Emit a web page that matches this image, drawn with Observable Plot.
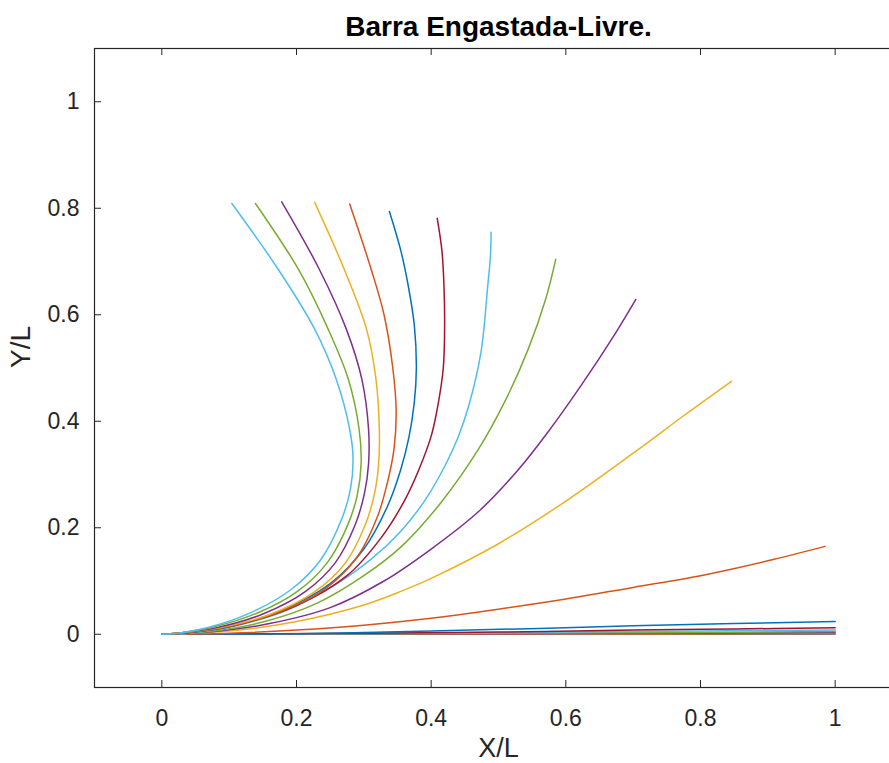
<!DOCTYPE html>
<html><head><meta charset="utf-8">
<script src="https://cdn.jsdelivr.net/npm/d3@7"></script>
<script src="https://cdn.jsdelivr.net/npm/@observablehq/plot@0.6"></script>
<style>
html,body{margin:0;padding:0;overflow:hidden;background:#fff;width:889px;height:763px}
#chart{width:889px;height:763px;overflow:hidden}
</style></head><body><div id="chart"></div>
<script>
const title = "Barra Engastada-Livre.";
const xLabel = "X/L";
const yLabel = "Y/L";
const xTicks = [0, 0.2, 0.4, 0.6, 0.8, 1];
const yTicks = [0, 0.2, 0.4, 0.6, 0.8, 1];
const palette = ["#0072BD", "#D95319", "#EDB120", "#7E2F8E", "#77AC30", "#4DBEEE", "#A2142F"];

// curves, root (0,0) to free tip, in drawing order
const c01 = [[0,0],[0.5,0],[1,0.0005]];
const c02 = [[0,0],[0.5,0.0004],[1,0.001]];
const c03 = [[0,0],[0.6,0.001],[1,0.002]];
const c04 = [[0,0],[0.5,0.001],[0.8,0.002],[1,0.003]];
const c05 = [[0,0],[0.5,0.002],[0.75,0.003],[1,0.005]];
const c06 = [[0,0],[0.4,0.002],[0.6,0.004],[0.8,0.006],[1,0.008]];
const c07 = [[0,0],[0.3,0.002],[0.5,0.004],[0.7,0.008],[0.85,0.010],[1,0.012]];
const c08 = [[0,0],[0.2,0.001],[0.4,0.006],[0.56,0.011],[0.7,0.016],[0.85,0.02],[1,0.024]];
const c09 = [[0,0],[0.1,0.002],[0.2,0.008],[0.3,0.017],[0.4,0.03],[0.5,0.047],[0.6,0.066],[0.7,0.088],[0.8,0.11],[0.9,0.138],[0.985,0.165]];
const c10 = [[0,0],[0.1,0.006],[0.2,0.024],[0.3,0.055],[0.356,0.081],[0.4,0.105],[0.5,0.17],[0.6,0.25],[0.7,0.34],[0.78,0.415],[0.846,0.475]];
const c11 = [[0,0],[0.07,0.004],[0.16,0.02],[0.25,0.05],[0.33,0.1],[0.4,0.16],[0.47,0.23],[0.53,0.31],[0.573,0.379],[0.622,0.466],[0.671,0.56],[0.704,0.629]];
const c12 = [[0,0],[0.07,0.005],[0.15,0.023],[0.23,0.058],[0.30,0.11],[0.356,0.165],[0.415,0.248],[0.47,0.347],[0.511,0.441],[0.544,0.535],[0.570,0.629],[0.585,0.704]];
const c13 = [[0,0],[0.04,0.002],[0.10,0.013],[0.18,0.042],[0.25,0.087],[0.31,0.14],[0.356,0.195],[0.39,0.25],[0.42,0.315],[0.44,0.37],[0.456,0.43],[0.474,0.53],[0.484,0.654],[0.488,0.71],[0.489,0.755]];
const c14 = [[0,0],[0.04,0.003],[0.11,0.017],[0.2,0.054],[0.275,0.11],[0.325,0.18],[0.36,0.25],[0.382,0.31],[0.40,0.372],[0.41,0.43],[0.418,0.5],[0.42,0.58],[0.419,0.654],[0.416,0.72],[0.409,0.781]];
const c15 = [[0,0],[0.035,0.003],[0.10,0.014],[0.18,0.046],[0.25,0.095],[0.30,0.16],[0.335,0.24],[0.355,0.31],[0.367,0.37],[0.375,0.436],[0.378,0.5],[0.375,0.58],[0.366,0.654],[0.355,0.72],[0.338,0.794]];
const c16 = [[0,0],[0.03,0.003],[0.09,0.012],[0.17,0.04],[0.24,0.083],[0.29,0.145],[0.32,0.22],[0.336,0.29],[0.345,0.35],[0.348,0.42],[0.343,0.5],[0.33,0.6],[0.311,0.685],[0.279,0.808]];
const c17 = [[0,0],[0.03,0.003],[0.085,0.012],[0.16,0.037],[0.225,0.078],[0.272,0.133],[0.302,0.205],[0.316,0.265],[0.322,0.32],[0.323,0.385],[0.318,0.479],[0.304,0.573],[0.271,0.685],[0.227,0.811]];
const c18 = [[0,0],[0.03,0.003],[0.08,0.012],[0.15,0.038],[0.213,0.08],[0.258,0.135],[0.287,0.205],[0.301,0.265],[0.307,0.32],[0.307,0.385],[0.297,0.479],[0.274,0.573],[0.234,0.685],[0.178,0.812]];
const c19 = [[0,0],[0.03,0.003],[0.075,0.013],[0.142,0.04],[0.203,0.082],[0.246,0.135],[0.276,0.205],[0.29,0.26],[0.296,0.32],[0.293,0.385],[0.277,0.479],[0.247,0.573],[0.203,0.685],[0.139,0.809]];
const c20 = [[0,0],[0.03,0.003],[0.07,0.013],[0.133,0.041],[0.193,0.085],[0.236,0.14],[0.267,0.216],[0.28,0.272],[0.284,0.33],[0.279,0.385],[0.259,0.479],[0.227,0.573],[0.173,0.685],[0.104,0.809]];

const curves = [c01,c02,c03,c04,c05,c06,c07,c08,c09,c10,c11,c12,c13,c14,c15,c16,c17,c18,c19,c20];
const rows = curves.flatMap((pts, i) => pts.map(([x, y]) => ({x, y, id: i, color: palette[i % palette.length]})));

const W = 905, H = 763, mL = 94, mR = 3, mT = 48, mB = 76;
const innerH = H - mT - mB, innerW = W - mL - mR;
const ink = "#262626";
const fmt = d => String(d);

const plot = Plot.plot({
  width: W, height: H,
  marginLeft: mL, marginRight: mR, marginTop: mT, marginBottom: mB,
  style: {fontFamily: "'Liberation Sans', Arial, Helvetica, sans-serif", fontSize: "23px", color: ink, background: "#fff", maxWidth: "none", overflow: "hidden"},
  x: {domain: [-0.1, 1.1], ticks: xTicks},
  y: {domain: [-0.1, 1.1], ticks: yTicks},
  color: {type: "identity"},
  marks: [
    Plot.line(rows, {x: "x", y: "y", z: "id", stroke: "color", strokeWidth: 1.5, curve: "catmull-rom"}),
    Plot.frame({stroke: ink, strokeWidth: 1.2}),
    Plot.tickX(xTicks, {x: d => d, insetTop: innerH - 7, stroke: ink}),
    Plot.tickX(xTicks, {x: d => d, insetBottom: innerH - 7, stroke: ink}),
    Plot.tickY(yTicks, {y: d => d, insetRight: innerW - 7, stroke: ink}),
    Plot.tickY(yTicks, {y: d => d, insetLeft: innerW - 7, stroke: ink}),
    Plot.axisX(xTicks, {tickSize: 0, tickPadding: 22, label: null, fontSize: 23, tickFormat: fmt}),
    Plot.axisY(yTicks, {tickSize: 0, tickPadding: 15, label: null, fontSize: 23, tickFormat: fmt}),
    Plot.text([xLabel], {frameAnchor: "bottom", dy: 61, lineAnchor: "middle", fontSize: 27, fill: ink}),
    Plot.text([yLabel], {frameAnchor: "left", dx: -73, rotate: -90, lineAnchor: "middle", fontSize: 28, fill: ink}),
    Plot.text([title], {frameAnchor: "top", dy: -21, lineAnchor: "middle", fontWeight: "bold", fontSize: 28, fill: "#000"})
  ]
});
document.getElementById("chart").appendChild(plot);
</script></body></html>
